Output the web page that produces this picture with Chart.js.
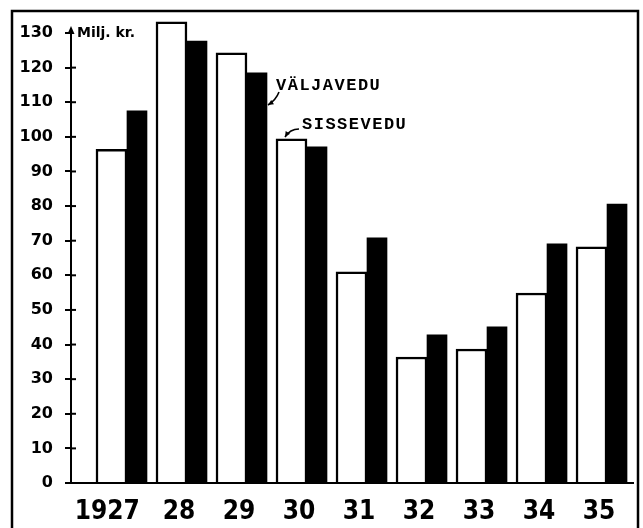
<!DOCTYPE html>
<html>
<head>
<meta charset="utf-8">
<script src="https://cdn.jsdelivr.net/npm/chart.js@4/dist/chart.umd.min.js"></script>
<style>
  html, body { margin: 0; padding: 0; background: #fff; }
  #wrap { width: 643px; height: 528px; position: relative; }
</style>
</head>
<body>
<div id="wrap"><canvas id="c"></canvas></div>
<script>
// ---- data (million kroons) ----
const categories = ['1927', '28', '29', '30', '31', '32', '33', '34', '35'];
const sissevedu = [96.4, 133.2, 124.3, 99.4, 61.0, 36.4, 38.7, 54.9, 68.2];   // imports (white)
const valjavedu = [107.5, 127.7, 118.5, 97.1, 70.8, 42.8, 45.1, 69.1, 80.6];  // exports (black)
const yTicks = [0, 10, 20, 30, 40, 50, 60, 70, 80, 90, 100, 110, 120, 130];
const unitLabel = 'Milj. kr.';
const seriesLabels = ['SISSEVEDU', 'VÄLJAVEDU'];

const toPoints = arr => arr.map((v, i) => ({ x: i, y: v }));

const decor = {
  id: 'decor',
  beforeDraw(chart) {
    const ctx = chart.ctx;
    ctx.save();
    ctx.fillStyle = '#fff';
    ctx.fillRect(0, 0, chart.width, chart.height);
    ctx.restore();
  },
  afterDraw(chart) {
    const { ctx, chartArea: ca, scales: { y } } = chart;
    ctx.save();
    ctx.strokeStyle = '#000';
    ctx.fillStyle = '#000';
    // outer frame
    ctx.lineWidth = 2.5;
    ctx.strokeRect(12, 11, 626, 540);
    // right half of the tick crosses
    ctx.lineWidth = 2;
    y.ticks.forEach((t, i) => {
      if (t.value === 130) return;
      const py = y.getPixelForTick(i);
      ctx.beginPath();
      ctx.moveTo(ca.left, py);
      ctx.lineTo(ca.left + 5, py);
      ctx.stroke();
    });
    // axis arrow head
    ctx.beginPath();
    ctx.moveTo(ca.left, ca.top - 7);
    ctx.lineTo(ca.left - 3.5, ca.top + 1);
    ctx.lineTo(ca.left + 3.5, ca.top + 1);
    ctx.closePath();
    ctx.fill();
    // unit label
    ctx.font = "bold 14px 'DejaVu Sans'";
    ctx.textBaseline = 'middle';
    ctx.textAlign = 'left';
    ctx.fillText(unitLabel, ca.left + 6, ca.top);
    // series annotations
    ctx.font = "bold 17px 'Liberation Mono'";
    try { ctx.letterSpacing = '1.5px'; } catch (e) {}
    ctx.fillText(seriesLabels[1], 276, 86);
    ctx.fillText(seriesLabels[0], 302, 125);
    try { ctx.letterSpacing = '0px'; } catch (e) {}
    // arrows
    ctx.lineWidth = 1.6;
    const arrow = (x0, y0, cx, cy, x1, y1) => {
      ctx.beginPath();
      ctx.moveTo(x0, y0);
      ctx.quadraticCurveTo(cx, cy, x1, y1);
      ctx.stroke();
      const ang = Math.atan2(y1 - cy, x1 - cx);
      ctx.beginPath();
      ctx.moveTo(x1, y1);
      ctx.lineTo(x1 - 6 * Math.cos(ang - 0.45), y1 - 6 * Math.sin(ang - 0.45));
      ctx.lineTo(x1 - 6 * Math.cos(ang + 0.45), y1 - 6 * Math.sin(ang + 0.45));
      ctx.closePath();
      ctx.fill();
    };
    arrow(279, 92, 276, 100, 268, 105);
    arrow(299, 129, 290, 129, 285, 137);
    ctx.restore();
  }
};

new Chart(document.getElementById('c'), {
  type: 'bar',
  data: {
    datasets: [
      {
        label: seriesLabels[0],
        data: toPoints(sissevedu),
        backgroundColor: '#fff',
        borderColor: '#000',
        borderWidth: 2.5,
        barThickness: 31,
        clip: false
      },
      {
        label: seriesLabels[1],
        data: toPoints(valjavedu),
        backgroundColor: '#000',
        borderColor: '#000',
        borderWidth: 0,
        barThickness: 20,
        clip: false
      }
    ]
  },
  options: {
    responsive: true,
    maintainAspectRatio: false,
    animation: false,
    layout: { padding: { top: 33, left: 20, right: 10, bottom: 0 } },
    plugins: { legend: { display: false }, tooltip: { enabled: false } },
    scales: {
      x: {
        type: 'linear',
        offset: false,
        min: -0.933,
        max: 8.433,
        afterBuildTicks: s => { s.ticks = categories.map((_, i) => ({ value: i })); },
        afterFit: s => { s.height = 45; s.paddingLeft = 0; s.paddingRight = 0; },
        grid: { display: false },
        border: { display: true, color: '#000', width: 2 },
        ticks: {
          autoSkip: false,
          maxRotation: 0,
          padding: 6,
          labelOffset: -8,
          color: '#000',
          font: { family: "'DejaVu Sans Condensed', 'DejaVu Sans'", weight: 'bold', size: 26 },
          callback: v => (v === 0 ? categories[v] + '\u2003' : categories[v])
        }
      },
      y: {
        min: 0,
        max: 130,
        afterBuildTicks: s => { s.ticks = yTicks.map(v => ({ value: v })); },
        afterFit: s => { s.width = 51; s.paddingTop = 0; s.paddingBottom = 0; },
        grid: { drawOnChartArea: false, drawTicks: true, tickLength: 6, color: '#000', lineWidth: 2 },
        border: { display: true, color: '#000', width: 2 },
        ticks: {
          padding: 12,
          color: '#000',
          font: { family: "'DejaVu Sans'", weight: 'bold', size: 16 }
        }
      }
    }
  },
  plugins: [decor]
});
</script>
</body>
</html>
